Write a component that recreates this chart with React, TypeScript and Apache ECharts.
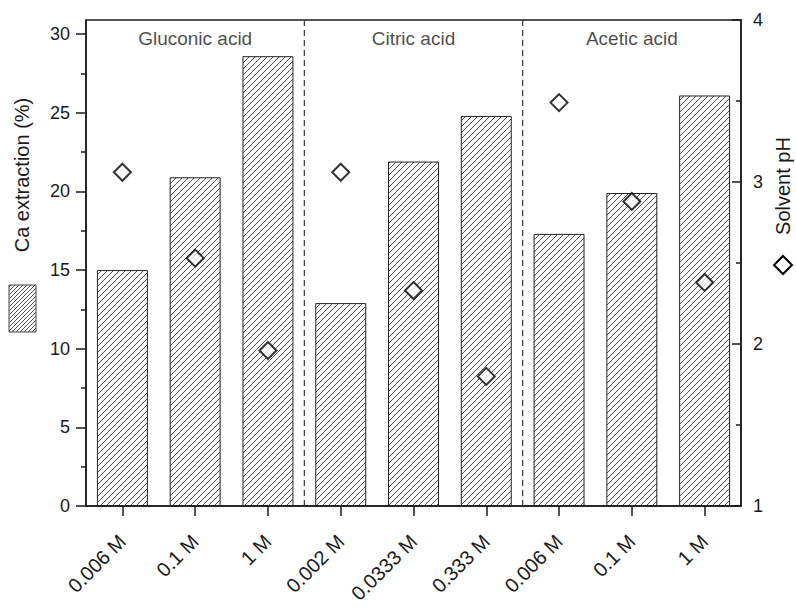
import React, { useEffect, useRef } from 'react';
import * as echarts from 'echarts';

const categories = ['0.006 M', '0.1 M', '1 M', '0.002 M', '0.0333 M', '0.333 M', '0.006 M', '0.1 M', '1 M'];
const caExtraction = [15.0, 20.9, 28.6, 12.9, 21.9, 24.8, 17.3, 19.9, 26.1];
const solventPH = [3.06, 2.53, 1.96, 3.06, 2.33, 1.8, 3.49, 2.88, 2.38];
const groupNames = ['Gluconic acid', 'Citric acid', 'Acetic acid'];
const groupCenters = [1.5, 4.5, 7.5];
const groupLabelY = 29.75;
const groupBoundaries = [3, 6];
const leftMax = 30.9;
const leftTicks = [0, 5, 10, 15, 20, 25, 30];
const leftMinorTicks = [2.5, 7.5, 12.5, 17.5, 22.5, 27.5];
const rightMin = 1;
const rightMax = 4;

const FONT = 'Liberation Sans, Arial, sans-serif';
const INK = '#1a1a1a';

function makeHatch(period: number, color: string) {
  const c = document.createElement('canvas');
  c.width = period;
  c.height = period;
  const ctx = c.getContext('2d')!;
  ctx.strokeStyle = color;
  ctx.lineWidth = 1;
  ctx.beginPath();
  ctx.moveTo(-1, period + 1);
  ctx.lineTo(period + 1, -1);
  ctx.moveTo(-1, 1);
  ctx.lineTo(1, -1);
  ctx.moveTo(period - 1, period + 1);
  ctx.lineTo(period + 1, period - 1);
  ctx.stroke();
  return c;
}

export default function App() {
  const ref = useRef<HTMLDivElement>(null);
  useEffect(() => {
    if (!ref.current) return;
    const chart = echarts.init(ref.current, null, { renderer: 'svg' });
    const hatch = makeHatch(6, '#555');
    const hatchLegend = makeHatch(4, '#555');
    const pattern = { image: hatch, repeat: 'repeat', imageWidth: 6, imageHeight: 6 } as any;
    const patternLegend = { image: hatchLegend, repeat: 'repeat', imageWidth: 4, imageHeight: 4 } as any;

    const axisLine = { show: true, lineStyle: { color: INK, width: 1.5 } };

    chart.setOption({
      animation: false,
      backgroundColor: '#fff',
      textStyle: { fontFamily: FONT },
      grid: {
        left: 86,
        right: 55,
        top: 20,
        bottom: 103,
        show: true,
        borderColor: INK,
        borderWidth: 1.5,
        backgroundColor: 'transparent',
      },
      xAxis: [
        {
          type: 'category',
          data: categories,
          boundaryGap: true,
          axisLine,
          axisTick: { show: true, alignWithLabel: true, length: 10, lineStyle: { color: INK, width: 1.5 } },
          axisLabel: {
            rotate: 45,
            margin: 32,
            fontSize: 20,
            color: INK,
            fontFamily: FONT,
            interval: 0,
          },
          splitLine: { show: false },
        },
        {
          type: 'value',
          min: 0,
          max: categories.length,
          show: false,
        },
      ],
      yAxis: [
        {
          type: 'value',
          min: 0,
          max: leftMax,
          position: 'left',
          axisLine,
          axisTick: { show: true, length: 10, customValues: leftTicks, lineStyle: { color: INK, width: 1.5 } },
          axisLabel: { customValues: leftTicks, fontSize: 18, color: INK, margin: 16, fontFamily: FONT },
          splitLine: { show: false },
        },
        {
          type: 'value',
          min: rightMin,
          max: rightMax,
          interval: 1,
          position: 'right',
          axisLine,
          axisTick: { show: true, inside: true, length: 9, lineStyle: { color: INK, width: 1.5 } },
          minorTick: { show: true, splitNumber: 2, length: 5, lineStyle: { color: INK, width: 1.5 } },
          axisLabel: { fontSize: 18, color: INK, margin: 12, fontFamily: FONT },
          splitLine: { show: false },
        },
        {
          type: 'value',
          min: 0,
          max: leftMax,
          position: 'left',
          axisLine: { show: false },
          axisTick: { show: true, length: 5, customValues: leftMinorTicks, lineStyle: { color: INK, width: 1.5 } },
          axisLabel: { show: false },
          splitLine: { show: false },
        },
      ],
      series: [
        {
          type: 'bar',
          name: 'Ca extraction (%)',
          data: caExtraction,
          barWidth: '70%',
          itemStyle: { color: pattern, borderColor: '#222', borderWidth: 1 },
          xAxisIndex: 0,
          yAxisIndex: 0,
        },
        ...groupBoundaries.map((b) => ({
          type: 'line',
          xAxisIndex: 1,
          yAxisIndex: 0,
          data: [
            [b, 0],
            [b, leftMax],
          ],
          symbol: 'none',
          lineStyle: { color: '#333', width: 1.2, type: [6, 4] },
          silent: true,
          z: 1,
        })),
        {
          type: 'scatter',
          xAxisIndex: 1,
          yAxisIndex: 0,
          symbolSize: 0,
          data: groupNames.map((n, i) => ({ name: n, value: [groupCenters[i], groupLabelY] })),
          label: {
            show: true,
            position: 'inside',
            formatter: '{b}',
            fontSize: 19,
            color: INK,
            fontFamily: FONT,
          },
          silent: true,
        },
        {
          type: 'scatter',
          name: 'Solvent pH',
          data: solventPH,
          xAxisIndex: 0,
          yAxisIndex: 1,
          symbol: 'diamond',
          symbolSize: 17,
          itemStyle: { color: '#fff', borderColor: '#000', borderWidth: 2 },
          z: 5,
        },
      ],
      graphic: [
        {
          type: 'text',
          x: 22,
          y: 175,
          rotation: Math.PI / 2,
          style: {
            text: 'Ca extraction (%)',
            font: `20px ${FONT}`,
            fill: INK,
            align: 'center',
            verticalAlign: 'middle',
          },
        },
        {
          type: 'rect',
          shape: { x: 9, y: 285, width: 27, height: 47 },
          style: { fill: patternLegend, stroke: '#444', lineWidth: 1 },
        },
        {
          type: 'text',
          x: 783,
          y: 186,
          rotation: Math.PI / 2,
          style: {
            text: 'Solvent pH',
            font: `20px ${FONT}`,
            fill: INK,
            align: 'center',
            verticalAlign: 'middle',
          },
        },
        {
          type: 'polygon',
          shape: {
            points: [
              [783, 256],
              [792, 265],
              [783, 274],
              [774, 265],
            ],
          },
          style: { fill: '#fff', stroke: '#000', lineWidth: 2 },
        },
      ],
    });
    return () => chart.dispose();
  }, []);
  return <div ref={ref} style={{ width: 796, height: 609, position: 'absolute', left: 0, top: 0 }} />;
}
